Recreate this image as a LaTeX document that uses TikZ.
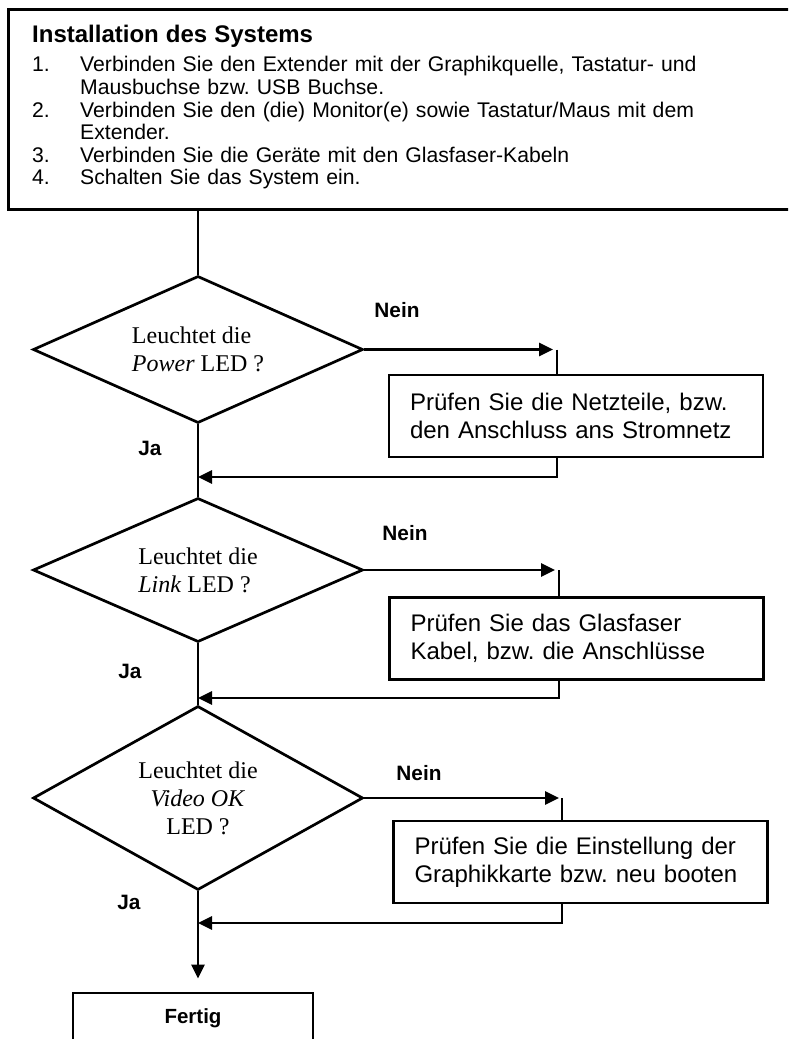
\documentclass[tikz,border=0pt]{standalone}
\usepackage{fontspec}
\setmainfont{Liberation Serif}
\newfontfamily\arialfont{Liberation Sans}
\usetikzlibrary{shapes.geometric,arrows.meta}
\frenchspacing
\begin{document}
\begin{tikzpicture}[x=1pt,y=-1pt,
  thk/.style={line width=2.7pt},
  arr/.style={-{Triangle[length=14pt,width=13pt]}},
  decbox/.style={draw, thk, shape=diamond, inner sep=0pt, minimum width=330pt,
    font=\fontsize{24}{28}\selectfont, align=left},
  fixbox/.style={draw, thk, rectangle, inner xsep=21pt, inner ysep=0pt,
    text width=332pt, align=left, minimum height=82pt,
    font=\arialfont\fontsize{24}{28}\selectfont},
  lbl/.style={font=\arialfont\bfseries\fontsize{20.8}{24}\selectfont, inner sep=0pt},
]
\useasboundingbox (0,0) rectangle (788,1039);
\clip (0,0) rectangle (788,1039);

% top box (open to the right)
\node[draw, thk, anchor=north west, minimum width=800pt, minimum height=200pt, inner sep=0pt] (top) at (7,8) {};
\node[anchor=north west, inner sep=0pt, text width=720pt, align=left,
      font=\arialfont\fontsize{21.2}{22.6}\selectfont] (steps) at (32,25.3)
 {{\bfseries\fontsize{24}{29}\selectfont Installation des Systems}\\[6.4pt]
  \makebox[48pt][l]{1.}Verbinden Sie den Extender mit der Graphikquelle, Tastatur- und\\
  \hspace*{48pt}Mausbuchse bzw. USB Buchse.\\
  \makebox[48pt][l]{2.}Verbinden Sie den (die) Monitor(e) sowie Tastatur/Maus mit dem\\
  \hspace*{48pt}Extender.\\
  \makebox[48pt][l]{3.}Verbinden Sie die Geräte mit den Glasfaser-Kabeln\\
  \makebox[48pt][l]{4.}Schalten Sie das System ein.};

% decisions
\node[decbox, aspect=2.24, minimum height=147pt] (d1) at (198,349.5) {Leuchtet die\\\textit{Power} LED ?};
\node[decbox, aspect=2.24, minimum height=144pt] (d2) at (198,570) {Leuchtet die\\\textit{Link} LED ?};
\node[decbox, aspect=1.8, minimum height=184pt, align=center] (d3) at (198,798) {Leuchtet die\\\textit{Video OK}\\LED ?};

% fix boxes
\node[fixbox] (b1) at (576,416) {Prüfen Sie die Netzteile, bzw.\\den Anschluss ans Stromnetz};
\node[fixbox] (b2) at (576.5,638.5) {Prüfen Sie das Glasfaser\\Kabel, bzw. die Anschlüsse};
\node[fixbox] (b3) at (580.5,862) {Prüfen Sie die Einstellung der\\Graphikkarte bzw. neu booten};

% end box
\node[draw, thk, minimum width=240pt, minimum height=50pt, inner sep=0pt,
      font=\arialfont\bfseries\fontsize{20.5}{24}\selectfont] (fin) at (193,1018) {Fertig};

% labels
\node[lbl] (n1) at (397,310) {Nein};
\node[lbl] (n2) at (405,533) {Nein};
\node[lbl] (n3) at (419,773) {Nein};
\node[lbl] (j1) at (150,448) {Ja};
\node[lbl] (j2) at (130,671) {Ja};
\node[lbl] (j3) at (129,902) {Ja};

% corners of the return paths
\coordinate (r1) at (557,477);
\coordinate (r2) at (559,698);
\coordinate (r3) at (562,923);

% main line
\draw[thk] (top.south -| d1.north) -- (d1.north);
\draw[thk] (d1.south) -- (d2.north);
\draw[thk] (d2.south) -- (d3.north);
\draw[thk,arr,shorten >=13pt] (d3.south) -- (d3.south |- fin.north);

% branches
\draw[thk,arr] (d1.east) -- ([xshift=-4pt]d1.east -| r1);
\draw[thk] (d1.east -| r1) -- (b1.north -| r1);
\draw[thk,arr] (b1.south -| r1) -- (r1) -- (d1.south |- r1);

\draw[thk,arr] (d2.east) -- ([xshift=-4pt]d2.east -| r2);
\draw[thk] (d2.east -| r2) -- (b2.north -| r2);
\draw[thk,arr] (b2.south -| r2) -- (r2) -- (d2.south |- r2);

\draw[thk,arr] (d3.east) -- ([xshift=-3pt]d3.east -| r3);
\draw[thk] (d3.east -| r3) -- (b3.north -| r3);
\draw[thk,arr] (b3.south -| r3) -- (r3) -- (d3.south |- r3);
\end{tikzpicture}
\end{document}
